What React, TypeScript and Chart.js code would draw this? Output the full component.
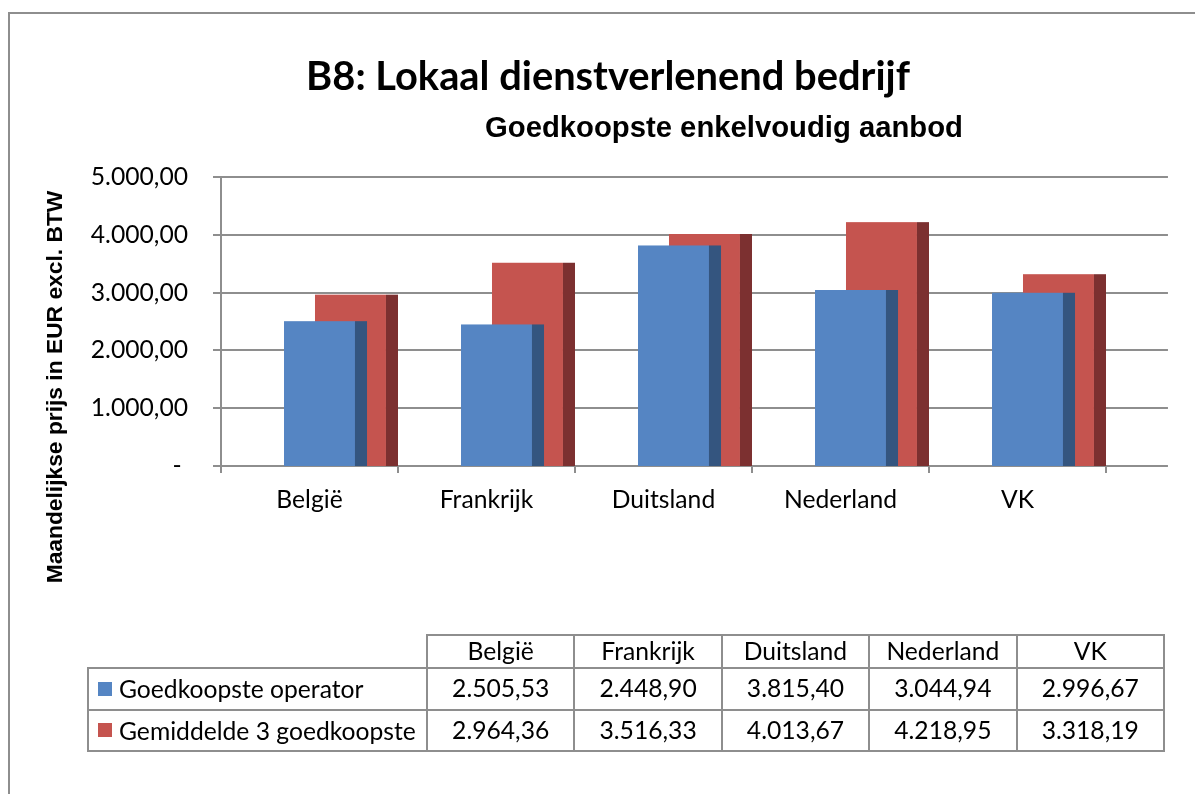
import React, { useEffect, useMemo, useRef } from 'react';
import { Chart, registerables } from 'chart.js';

Chart.register(...registerables);

// ---- data ----
const categories = ['België', 'Frankrijk', 'Duitsland', 'Nederland', 'VK'];
const seriesNames = ['Goedkoopste operator', 'Gemiddelde 3 goedkoopste'];
const cheapestOperator = [2505.53, 2448.9, 3815.4, 3044.94, 2996.67];
const averageThreeCheapest = [2964.36, 3516.33, 4013.67, 4218.95, 3318.19];
const yTickValues = [0, 1000, 2000, 3000, 4000, 5000];
const titleText = 'B8: Lokaal dienstverlenend bedrijf';
const subtitleText = 'Goedkoopste enkelvoudig aanbod';
const yAxisTitle = 'Maandelijkse prijs in EUR excl. BTW';

// ---- styles ----
const GRID = '#8e8e8e';
const FRAME = '#8e8e8e';
const SERIES_STYLE = [
  { front: '#5585c3', side: '#34557f', start: 0.356 },
  { front: '#c5544f', side: '#7c3030', start: 0.531 },
];
const FRONT_W = 0.401;
const SIDE_W = 0.068;
const WALL_DEPTH = 0.35;

function formatNl(v: number): string {
  const [i, d] = Math.abs(v).toFixed(2).split('.');
  const withDots = i.replace(/\B(?=(\d{3})+(?!\d))/g, '.');
  return (v < 0 ? '-' : '') + withDots + ',' + d;
}

function fitSize(text: string, weight: string, family: string, target: number): number {
  const c = document.createElement('canvas').getContext('2d')!;
  c.font = `${weight} 100px ${family}`;
  return (100 * target) / c.measureText(text).width;
}

export default function App() {
  const canvasRef = useRef<HTMLCanvasElement>(null);
  const sizes = useMemo(
    () => ({
      title: fitSize(titleText, 'bold', 'Lato', 604),
      subtitle: fitSize(subtitleText, 'bold', '"Liberation Sans"', 478),
      yTitle: fitSize(yAxisTitle, 'bold', '"Liberation Sans"', 393),
      body: fitSize('Gemiddelde 3 goedkoopste', 'normal', 'Lato', 297),
    }),
    []
  );

  useEffect(() => {
    const canvas = canvasRef.current!;
    const series = [cheapestOperator, averageThreeCheapest];

    const framePlugin = {
      id: 'frame',
      beforeDraw(chart: any) {
        const ctx = chart.ctx;
        ctx.save();
        ctx.strokeStyle = FRAME;
        ctx.lineWidth = 2;
        ctx.beginPath();
        ctx.moveTo(9, chart.height);
        ctx.lineTo(9, 13);
        ctx.lineTo(chart.width, 13);
        ctx.stroke();
        ctx.restore();
      },
    };

    const wallPlugin = {
      id: 'wall',
      beforeDatasetsDraw(chart: any) {
        const { ctx, chartArea } = chart;
        const x = chart.scales.x;
        const y = chart.scales.y;
        const catW = x.getPixelForValue(1) - x.getPixelForValue(0);
        ctx.save();
        ctx.strokeStyle = GRID;
        ctx.lineWidth = 2;
        yTickValues.forEach((v) => {
          const py = Math.round(y.getPixelForValue(v));
          ctx.beginPath();
          ctx.moveTo(chartArea.right - 1, py);
          ctx.lineTo(chartArea.right + catW * WALL_DEPTH, py);
          ctx.stroke();
        });
        ctx.restore();
      },
    };

    const barsPlugin = {
      id: 'bars3d',
      afterDatasetsDraw(chart: any) {
        const { ctx } = chart;
        const x = chart.scales.x;
        const y = chart.scales.y;
        const catW = x.getPixelForValue(1) - x.getPixelForValue(0);
        const base = y.getPixelForValue(0);
        ctx.save();
        [1, 0].forEach((di) => {
          const st = SERIES_STYLE[di];
          (chart.data.datasets[di].data as number[]).forEach((v, i) => {
            const left = x.getPixelForValue(i) - catW / 2 + catW * st.start;
            const top = y.getPixelForValue(v);
            const fw = catW * FRONT_W;
            const sw = catW * SIDE_W;
            ctx.fillStyle = st.front;
            ctx.fillRect(left, top, fw, base - top);
            ctx.fillStyle = st.side;
            ctx.fillRect(left + fw, top, sw, base - top);
          });
        });
        ctx.restore();
      },
    };

    const textPlugin = {
      id: 'texts',
      afterDraw(chart: any) {
        const ctx = chart.ctx;
        ctx.save();
        ctx.fillStyle = '#000';
        ctx.textAlign = 'center';
        ctx.textBaseline = 'alphabetic';
        ctx.font = `bold ${sizes.title}px Lato`;
        ctx.fillText(titleText, 608, 90);
        ctx.font = `bold ${sizes.subtitle}px "Liberation Sans"`;
        ctx.fillText(subtitleText, 724, 137);
        ctx.translate(56, 387);
        ctx.rotate(-Math.PI / 2);
        ctx.textBaseline = 'middle';
        ctx.font = `bold ${sizes.yTitle}px "Liberation Sans"`;
        ctx.fillText(yAxisTitle, 0, 0);
        ctx.restore();
      },
    };

    const bodyFont = { family: 'Lato', size: sizes.body, weight: 'normal' as const };

    const chart = new Chart(canvas, {
      type: 'bar',
      data: {
        labels: categories,
        datasets: series.map((d, i) => ({
          label: seriesNames[i],
          data: d,
          backgroundColor: 'rgba(0,0,0,0)',
          borderWidth: 0,
        })),
      },
      options: {
        responsive: false,
        animation: false,
        devicePixelRatio: 1,
        layout: { padding: { left: 0, top: 177, right: 89, bottom: 268 } },
        plugins: {
          legend: { display: false },
          tooltip: { enabled: false },
          title: { display: false },
        },
        scales: {
          x: {
            type: 'category',
            offset: true,
            grid: {
              display: true,
              drawOnChartArea: false,
              drawTicks: true,
              tickLength: 7,
              offset: true,
              color: GRID,
              lineWidth: 2,
            },
            border: { display: true, color: GRID, width: 2 },
            ticks: { font: bodyFont, color: '#000', padding: 12, maxRotation: 0, autoSkip: false },
            afterFit: (s: any) => {
              s.height = 60;
            },
          },
          y: {
            type: 'linear',
            min: 0,
            max: 5000,
            afterBuildTicks: (s: any) => {
              s.ticks = yTickValues.map((v) => ({ value: v }));
            },
            grid: { color: GRID, lineWidth: 2, tickLength: 8, drawTicks: true },
            border: { display: true, color: GRID, width: 2 },
            ticks: {
              font: bodyFont,
              color: '#000',
              padding: 25,
              callback: (v: any) => (Number(v) === 0 ? '- ' : formatNl(Number(v))),
            },
            afterFit: (s: any) => {
              s.width = 221;
            },
          },
        },
      },
      plugins: [framePlugin, wallPlugin, barsPlugin, textPlugin],
    });
    return () => chart.destroy();
  }, [sizes]);

  const cellBorder = `2px solid ${GRID}`;
  const dataCell: React.CSSProperties = {
    border: cellBorder,
    padding: 0,
    textAlign: 'center',
    verticalAlign: 'middle',
    lineHeight: 1,
    whiteSpace: 'nowrap',
  };
  const rows = [cheapestOperator, averageThreeCheapest];

  return (
    <div
      style={{
        position: 'fixed',
        left: 0,
        top: 0,
        width: 1195,
        height: 794,
        background: '#fff',
        overflow: 'hidden',
      }}
    >
      <canvas ref={canvasRef} width={1195} height={794} style={{ position: 'absolute', left: 0, top: 0 }} />
      <table
        style={{
          position: 'absolute',
          left: 87,
          top: 634,
          width: 1076,
          borderCollapse: 'collapse',
          tableLayout: 'fixed',
          fontFamily: 'Lato',
          fontSize: sizes.body,
          color: '#000',
        }}
      >
        <colgroup>
          <col style={{ width: 339 }} />
          {categories.map((c) => (
            <col key={c} style={{ width: 147.4 }} />
          ))}
        </colgroup>
        <tbody>
          <tr style={{ height: 33 }}>
            <td style={{ border: 'none', padding: 0 }} />
            {categories.map((c) => (
              <td key={c} style={dataCell}>
                {c}
              </td>
            ))}
          </tr>
          {rows.map((r, ri) => (
            <tr key={seriesNames[ri]} style={{ height: 41.5 }}>
              <td style={{ ...dataCell, textAlign: 'left', paddingLeft: 9 }}>
                <span
                  style={{
                    display: 'inline-block',
                    width: 14,
                    height: 14,
                    background: SERIES_STYLE[ri].front,
                    marginRight: 7,
                    verticalAlign: 'middle',
                    position: 'relative',
                    top: -1,
                  }}
                />
                <span style={{ verticalAlign: 'middle' }}>{seriesNames[ri]}</span>
              </td>
              {r.map((v, i) => (
                <td key={categories[i]} style={dataCell}>
                  {formatNl(v)}
                </td>
              ))}
            </tr>
          ))}
        </tbody>
      </table>
    </div>
  );
}
